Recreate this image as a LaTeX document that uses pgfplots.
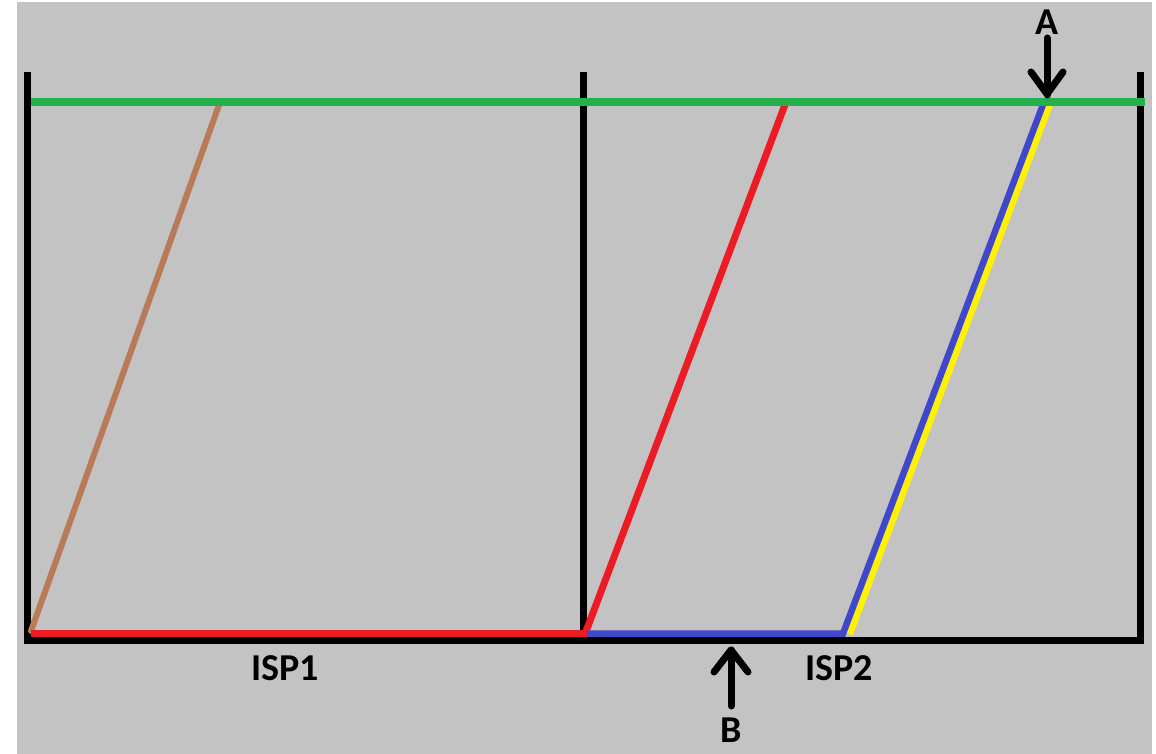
\documentclass[border=0pt]{standalone}
\usepackage{pgfplots}
\pgfplotsset{compat=1.18}
\usepackage{fontspec}
\setmainfont{Carlito}
\definecolor{bg}{RGB}{195,195,195}
\definecolor{pgreen}{RGB}{34,177,76}
\definecolor{pred}{RGB}{237,28,36}
\definecolor{pbrown}{RGB}{185,122,87}
\definecolor{pblue}{RGB}{63,72,204}
\definecolor{pyellow}{RGB}{255,242,0}
\begin{document}
\begin{tikzpicture}
\begin{axis}[scale only axis, width=1156pt, height=754pt,
  xmin=0, xmax=1156, ymin=0, ymax=754, y dir=reverse,
  hide axis, clip=true]
% background
\addplot[fill=white, draw=none] coordinates {(0,0) (1156,0) (1156,754) (0,754)} -- cycle;
\addplot[fill=bg, draw=none] coordinates {(17,2) (1152,2) (1152,754) (17,754)} -- cycle;
% frame
\addplot[black, line width=7pt, line join=miter] coordinates {(27.5,72) (27.5,640.5) (1140.5,640.5) (1140.5,72)};
\addplot[black, line width=7pt] coordinates {(583.5,72) (583.5,637)};
% brown
\addplot[pbrown, line width=6pt, line cap=round] coordinates {(31,631) (219,105)};
% red path
\addplot[pred, line width=7pt] coordinates {(31,633.5) (587,633.5)};
\addplot[pred, line width=7pt] coordinates {(585,634) (786,102)};
% yellow
\addplot[pyellow, line width=7pt] coordinates {(849.5,634) (1050.5,102)};
% blue
\addplot[pblue, line width=6.5pt, line join=miter] coordinates {(587,633.5) (843,633.5) (1044,102)};
% green
\addplot[pgreen, line width=7.5pt] coordinates {(31,102) (1145,102)};
% arrow A
\addplot[black, line width=7pt, line cap=round, line join=round] coordinates {(1047,38) (1047,95)};
\addplot[black, line width=7pt, line cap=round, line join=round] coordinates {(1031,72) (1047,94) (1063,72)};
% arrow B
\addplot[black, line width=7pt, line cap=round, line join=round] coordinates {(731,706) (731,650)};
\addplot[black, line width=7pt, line cap=round, line join=round] coordinates {(714,672) (731,650) (748,672)};
% labels
\node[anchor=base, font=\fontsize{38}{40}\selectfont\bfseries, inner sep=0pt] at (axis cs:1047,35) {A};
\node[anchor=base, font=\fontsize{38}{40}\selectfont\bfseries, inner sep=0pt] at (axis cs:731,742) {B};
\node[anchor=base, font=\fontsize{38}{40}\selectfont\bfseries, inner sep=0pt] at (axis cs:285,680) {ISP1};
\node[anchor=base, font=\fontsize{38}{40}\selectfont\bfseries, inner sep=0pt] at (axis cs:839,680) {ISP2};
\end{axis}
\end{tikzpicture}
\end{document}
